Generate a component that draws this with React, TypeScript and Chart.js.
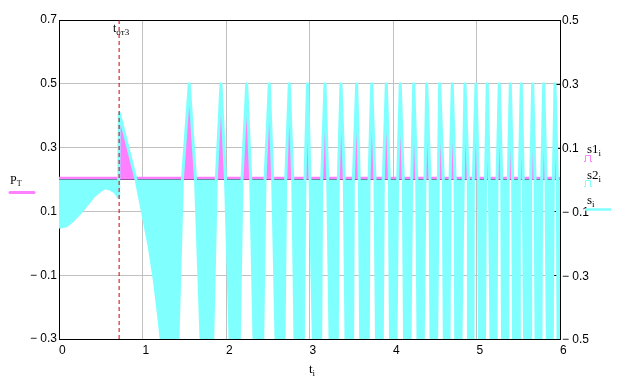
import React, { useEffect, useRef } from "react";
import { Chart, registerables } from "chart.js";
Chart.register(...registerables);

// ---- data (t in x units, s values on the right axis) ----
const preT = [0, 0.09, 0.17, 0.25, 0.33, 0.41, 0.49, 0.55, 0.61, 0.67, 0.714];
const preV = [-0.15, -0.145, -0.127, -0.106, -0.08, -0.054, -0.036, -0.026, -0.03, -0.039, -0.056];
const rampT = [0.722, 0.922, 1.002, 1.081, 1.141, 1.189, 1.222, 1.32, 1.425];
const rampV = [0.208, 0, -0.105, -0.211, -0.315, -0.418, -0.497, -0.75, -0.5];

const pulseStart = [1.478, 1.884, 2.192, 2.467, 2.715, 2.946, 3.146, 3.345, 3.525, 3.713, 3.884, 4.056, 4.224, 4.383, 4.543, 4.683, 4.842, 4.962, 5.108, 5.246, 5.381, 5.513, 5.649, 5.781, 5.92];
const pulsePeakT = [1.56, 1.94, 2.248, 2.519, 2.758, 2.976, 3.186, 3.377, 3.565, 3.745, 3.92, 4.087, 4.248, 4.404, 4.559, 4.71, 4.862, 4.994, 5.129, 5.273, 5.405, 5.536, 5.673, 5.805, 5.94];
const pulsePeakV = [0.3, 0.3, 0.3, 0.3, 0.3, 0.3, 0.3, 0.3, 0.3, 0.3, 0.3, 0.3, 0.3, 0.3, 0.3, 0.3, 0.3, 0.3, 0.3, 0.3, 0.3, 0.3, 0.3, 0.3, 0.3];
const pulseEnd = [1.635, 1.994, 2.296, 2.559, 2.799, 3.006, 3.218, 3.417, 3.596, 3.784, 3.956, 4.123, 4.284, 4.443, 4.602, 4.743, 4.902, 5.022, 5.153, 5.302, 5.433, 5.56, 5.701, 5.832, 5.968];

const troughLeft = [1.701, 2.048, 2.335, 2.599, 2.826, 3.046, 3.246, 3.437, 3.613, 3.802, 3.97, 4.138, 4.299, 4.455, 4.614, 4.751, 4.904, 5.036, 5.174, 5.311, 5.443, 5.575, 5.713, 5.848];
const troughMidT = [1.771, 2.1, 2.39, 2.65, 2.88, 3.09, 3.29, 3.48, 3.66, 3.84, 4.0, 4.17, 4.33, 4.49, 4.64, 4.78, 4.93, 5.07, 5.2, 5.34, 5.48, 5.61, 5.74, 5.88];
const troughMidV = [-0.8, -0.8, -0.8, -0.8, -0.8, -0.8, -0.8, -0.8, -0.8, -0.8, -0.8, -0.8, -0.8, -0.8, -0.8, -0.8, -0.8, -0.8, -0.8, -0.8, -0.8, -0.8, -0.8, -0.8];
const troughRight = [1.841, 2.159, 2.44, 2.695, 2.926, 3.134, 3.333, 3.517, 3.704, 3.872, 4.036, 4.204, 4.363, 4.523, 4.671, 4.814, 4.958, 5.096, 5.234, 5.374, 5.509, 5.641, 5.772, 5.908];
const troughEdgeV = -0.5;
const tailT = [5.976, 6.0];
const tailV = [-0.5, -0.6];

const PT = 0.205;
const tOt3 = 0.72;

const xRange = [0, 6];
const leftRange = [-0.3, 0.7];
const rightRange = [-0.5, 0.5];

const CYAN = "#80ffff";
const MAGENTA = "#ff80ff";

type P = { x: number; y: number };

function buildS(): P[] {
  const pts: P[] = [];
  preT.forEach((t, i) => pts.push({ x: t, y: preV[i] }));
  rampT.forEach((t, i) => pts.push({ x: t, y: rampV[i] }));
  pulseStart.forEach((t, k) => {
    pts.push({ x: t, y: 0 });
    pts.push({ x: pulsePeakT[k], y: pulsePeakV[k] });
    pts.push({ x: pulseEnd[k], y: 0 });
    if (k < troughLeft.length) {
      pts.push({ x: troughLeft[k], y: troughEdgeV });
      pts.push({ x: troughMidT[k], y: troughMidV[k] });
      pts.push({ x: troughRight[k], y: troughEdgeV });
    }
  });
  tailT.forEach((t, i) => pts.push({ x: t, y: tailV[i] }));
  return pts;
}

const fmt = (v: number) => {
  const r = Math.round(v * 10) / 10;
  if (r < 0) return "\u2212 " + Math.abs(r).toFixed(1);
  return r.toFixed(1);
};

function drawSub(ctx: CanvasRenderingContext2D, main: string, sub: string, x: number, base: number, size: number, subSize: number, subBase: number) {
  ctx.font = `${size}px "Liberation Serif"`;
  ctx.textBaseline = "alphabetic";
  ctx.textAlign = "left";
  ctx.fillStyle = "#000";
  ctx.fillText(main, x, base);
  const w = ctx.measureText(main).width;
  ctx.font = `${subSize}px "Liberation Serif"`;
  ctx.fillText(sub, x + w, subBase);
}

const deco = {
  id: "deco",
  beforeDatasetsDraw(chart: any) {
    const { ctx, chartArea: a, scales } = chart;
    ctx.save();
    ctx.strokeStyle = "#000";
    ctx.lineWidth = 1;
    ctx.beginPath();
    ctx.moveTo(a.left, a.top + 0.5);
    ctx.lineTo(a.right, a.top + 0.5);
    const yR = scales.yR;
    yR.ticks.forEach((t: any) => {
      const y = Math.round(yR.getPixelForValue(t.value)) + 0.5;
      ctx.moveTo(a.right - 6, y);
      ctx.lineTo(a.right, y);
    });
    ctx.stroke();
    ctx.restore();
  },
  afterDraw(chart: any) {
    const { ctx, chartArea: a, scales } = chart;
    ctx.save();
    // right axis labels
    const yR = scales.yR;
    ctx.font = '12px "Liberation Sans"';
    ctx.fillStyle = "#000";
    ctx.textAlign = "left";
    ctx.textBaseline = "middle";
    yR.ticks.forEach((t: any) => {
      ctx.fillText(fmt(t.value), a.right + 2, yR.getPixelForValue(t.value) + 1);
    });
    // t_от3 label
    drawSub(ctx, "t", "от3", 113, 31.5, 12, 9, 34.5);
    // P_T legend (left)
    drawSub(ctx, "P", "T", 10, 183.5, 12, 8, 186);
    ctx.strokeStyle = MAGENTA;
    ctx.lineWidth = 3;
    ctx.lineCap = "round";
    ctx.beginPath();
    ctx.moveTo(10, 192.5);
    ctx.lineTo(34, 192.5);
    ctx.stroke();
    ctx.lineCap = "butt";
    // right legend
    drawSub(ctx, "s1", "i", 587, 152.7, 13, 9, 155.5);
    drawSub(ctx, "s2", "i", 587, 179, 13, 9, 182);
    drawSub(ctx, "s", "i", 587, 203.5, 13, 9, 206.5);
    const bar = (color: string, y0: number) => {
      ctx.strokeStyle = color;
      ctx.lineWidth = 1;
      ctx.beginPath();
      ctx.moveTo(584, y0 + 6.5);
      ctx.lineTo(585.5, y0 + 6.5);
      ctx.lineTo(585.5, y0 + 0.5);
      ctx.lineTo(590.5, y0 + 0.5);
      ctx.lineTo(590.5, y0 + 6.5);
      ctx.lineTo(592, y0 + 6.5);
      ctx.stroke();
    };
    bar(MAGENTA, 155);
    bar(CYAN, 180);
    ctx.strokeStyle = CYAN;
    ctx.lineWidth = 2.5;
    ctx.beginPath();
    ctx.moveTo(585, 209.5);
    ctx.lineTo(611, 209.5);
    ctx.stroke();
    // x axis title
    drawSub(ctx, "t", "i", 309, 373, 13, 9, 376);
    ctx.restore();
  },
};

export default function App() {
  const ref = useRef<HTMLCanvasElement>(null);
  useEffect(() => {
    if (!ref.current) return;
    const sPts = buildS();
    const s1Pts = sPts.map((p) => ({ x: p.x, y: Math.max(p.y, 0) }));
    const s2Pts = sPts.map((p) => ({ x: p.x, y: Math.min(p.y, 0) }));
    const tickFont = { family: '"Liberation Sans"', size: 12 };
    const chart = new Chart(ref.current, {
      type: "line",
      data: {
        datasets: [
          {
            label: "tOt3",
            data: [{ x: tOt3, y: leftRange[0] }, { x: tOt3, y: leftRange[1] }],
            yAxisID: "yL",
            borderColor: "#d00000",
            borderWidth: 1,
            borderDash: [4, 3],
            pointRadius: 0,
            fill: false,
            order: 0,
          },
          {
            label: "s",
            data: sPts,
            yAxisID: "yR",
            borderColor: CYAN,
            borderWidth: 3,
            borderJoinStyle: "round",
            pointRadius: 0,
            fill: false,
            order: 1,
          },
          {
            label: "s1",
            data: s1Pts,
            yAxisID: "yR",
            borderColor: "rgba(0,0,0,0)",
            borderWidth: 1,
            backgroundColor: MAGENTA,
            pointRadius: 0,
            fill: "origin",
            order: 2,
          },
          {
            label: "s2",
            data: s2Pts,
            yAxisID: "yR",
            borderColor: "rgba(0,0,0,0)",
            borderWidth: 1,
            backgroundColor: CYAN,
            pointRadius: 0,
            fill: "origin",
            order: 3,
          },
          {
            label: "PT",
            data: [{ x: xRange[0], y: PT }, { x: xRange[1], y: PT }],
            yAxisID: "yL",
            borderColor: MAGENTA,
            borderWidth: 2.5,
            pointRadius: 0,
            fill: false,
            order: 4,
          },
          {
            label: "zero",
            data: [{ x: xRange[0], y: 0 }, { x: xRange[1], y: 0 }],
            yAxisID: "yR",
            borderColor: "#000",
            borderWidth: 1,
            pointRadius: 0,
            fill: false,
            order: 5,
          },
        ] as any,
      },
      options: {
        animation: false,
        responsive: false,
        events: [],
        layout: { padding: { top: 20, left: 0, right: 0, bottom: 0 } },
        plugins: { legend: { display: false }, tooltip: { enabled: false } },
        elements: { line: { tension: 0 }, point: { radius: 0 } },
        scales: {
          x: {
            type: "linear",
            min: xRange[0],
            max: xRange[1],
            afterFit: (s: any) => { s.height = 46; },
            ticks: { stepSize: 1, align: "start", padding: 4, color: "#000", font: tickFont, autoSkip: false, maxRotation: 0, callback: (v: any) => String(v) },
            grid: { color: "#c0c0c0", drawTicks: false },
            border: { color: "#000", width: 1 },
          },
          yL: {
            type: "linear",
            position: "left",
            min: leftRange[0],
            max: leftRange[1],
            afterFit: (s: any) => { s.width = 59; },
            ticks: { stepSize: 0.2, padding: 2, color: "#000", font: tickFont, autoSkip: false, callback: (v: any) => fmt(Number(v)) },
            grid: { color: "#c0c0c0", drawTicks: false },
            border: { color: "#000", width: 1 },
          },
          yR: {
            type: "linear",
            position: "right",
            min: rightRange[0],
            max: rightRange[1],
            afterFit: (s: any) => { s.width = 61; },
            ticks: { stepSize: 0.2, display: false, autoSkip: false },
            grid: { drawOnChartArea: false, drawTicks: false },
            border: { color: "#000", width: 1 },
          },
        },
      } as any,
      plugins: [deco],
    });
    return () => chart.destroy();
  }, []);
  return (
    <div style={{ position: "absolute", left: 0, top: 0, width: 621, height: 385, background: "#fff" }}>
      <canvas ref={ref} width={621} height={385} />
    </div>
  );
}
